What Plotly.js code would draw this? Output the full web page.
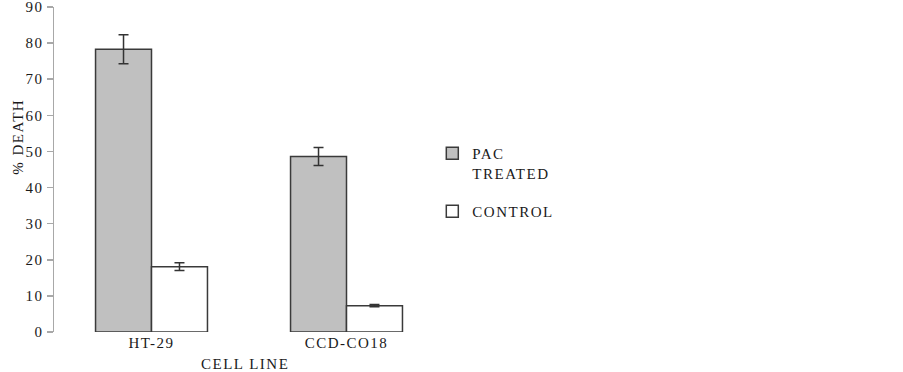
<!DOCTYPE html>
<html>
<head>
<meta charset="utf-8">
<script src="https://cdn.plot.ly/plotly-3.0.1.min.js"></script>
<style>
  html, body { margin: 0; padding: 0; background: #fff; }
  #chart { width: 903px; height: 372px; }
  /* slightly tracked-out serif lettering (global so text measurement sees it too) */
  svg text { letter-spacing: 1.5px; }
</style>
</head>
<body>
<div id="chart"></div>
<script>
// Cell lines on the x axis
var cellLines = ['HT-29', 'CCD-CO18'];

// Mean % death and error (±) per treatment
var pacTreated = [78.3, 48.6];
var pacTreatedErr = [4.0, 2.5];
var control = [18.1, 7.3];
var controlErr = [1.1, 0.3];

var yTicks = [0, 10, 20, 30, 40, 50, 60, 70, 80, 90];

var serif = 'Liberation Serif';
var textFont = { family: serif, size: 15, color: '#1a1a1a' };
var edge = { color: '#3a3a3a', width: 1.5 };
var errStyle = { type: 'data', visible: true, color: '#333', thickness: 1.5, width: 5 };

var traces = [
  {
    type: 'bar',
    name: 'PAC<br>TREATED',
    legendgroup: 'pac',
    x: cellLines,
    y: pacTreated,
    error_y: Object.assign({ array: pacTreatedErr }, errStyle),
    marker: { color: '#c0c0c0', line: edge }
  },
  {
    type: 'bar',
    name: 'CONTROL',
    legendgroup: 'ctrl',
    x: cellLines,
    y: control,
    error_y: Object.assign({ array: controlErr }, errStyle),
    marker: { color: '#ffffff', line: edge }
  }
];

var layout = {
  width: 903,
  height: 372,
  font: textFont,
  margin: { l: 54, r: 459, t: 7, b: 40, pad: 0 },
  paper_bgcolor: '#fff',
  plot_bgcolor: '#fff',
  barmode: 'group',
  bargap: 0.426,
  bargroupgap: 0,
  showlegend: true,
  legend: {
    x: 0.97, xanchor: 'left',
    y: 0.6, yanchor: 'top',
    valign: 'top',
    itemwidth: 30,
    traceorder: 'grouped',
    tracegroupgap: 16,
    font: textFont,
    bgcolor: 'rgba(0,0,0,0)'
  },
  xaxis: {
    type: 'category',
    range: [-0.5, 1.5],
    showline: false,
    showgrid: false,
    zeroline: false,
    ticks: '',
    tickfont: textFont
  },
  yaxis: {
    range: [0, 90],
    tickvals: yTicks,
    ticklabeloverflow: 'allow',
    showline: true,
    linecolor: '#a8a8a8',
    linewidth: 1.5,
    ticks: 'outside',
    ticklen: 6,
    tickcolor: '#a8a8a8',
    tickwidth: 1.5,
    showgrid: false,
    zeroline: false,
    tickfont: textFont
  },
  annotations: [
    {
      text: '% DEATH', textangle: -90,
      xref: 'paper', yref: 'paper',
      x: -0.093, y: 0.6,
      xanchor: 'center', yanchor: 'middle',
      showarrow: false,
      font: textFont
    },
    {
      text: 'CELL LINE',
      xref: 'paper', yref: 'paper',
      x: 0.49, y: -0.097,
      xanchor: 'center', yanchor: 'middle',
      showarrow: false,
      font: textFont
    }
  ]
};

Plotly.newPlot('chart', traces, layout, { displayModeBar: false, staticPlot: true });
</script>
</body>
</html>
